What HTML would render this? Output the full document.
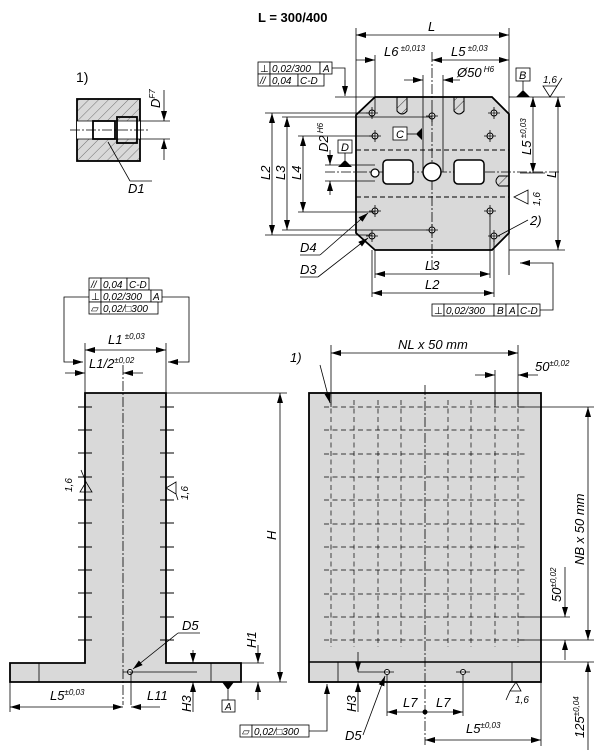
<!DOCTYPE html>
<html><head><meta charset="utf-8"><style>
body{margin:0;background:#fff}
svg{display:block;font-family:"Liberation Sans",sans-serif;font-style:italic;font-size:13px}
text{fill:#000}
.b{fill:#d9d9d9;stroke:#000;stroke-width:1.8}
.t{stroke:#000;stroke-width:0.8;fill:none}
.c{stroke:#000;stroke-width:0.8;stroke-dasharray:10 2 2 2;fill:none}
.d{stroke:#000;stroke-width:0.9;stroke-dasharray:5 3;fill:none}
.bx{fill:#fff;stroke:#000;stroke-width:0.8}
</style></head><body>
<svg width="604" height="750" viewBox="0 0 604 750" xmlns="http://www.w3.org/2000/svg">
<defs>
<marker id="a" markerWidth="10" markerHeight="6" refX="10" refY="3" orient="auto-start-reverse" markerUnits="userSpaceOnUse"><path d="M0,0 L10,3 L0,6z" fill="#000"/></marker>
<pattern id="h" width="7" height="7" patternUnits="userSpaceOnUse" patternTransform="rotate(45)"><line x1="0" y1="0" x2="0" y2="7" stroke="#000" stroke-width="0.8"/></pattern>
</defs>

<!-- detail 1) -->
<text x="76" y="82" style="font-style:normal;font-size:14px">1)</text>
<rect x="77" y="99" width="63" height="62" class="b"/>
<rect x="77" y="121" width="63" height="18" fill="#fff" stroke="none"/>
<rect x="77" y="99" width="63" height="22" fill="url(#h)" opacity="0.6"/>
<rect x="77" y="139" width="63" height="22" fill="url(#h)" opacity="0.6"/>
<rect x="93" y="121" width="22" height="18" fill="none" stroke="#000" stroke-width="1.8"/>
<rect x="117" y="117" width="20" height="26" fill="none" stroke="#000" stroke-width="1.8"/>
<line x1="77" y1="121" x2="140" y2="121" class="t"/><line x1="77" y1="139" x2="140" y2="139" class="t"/>
<line x1="70" y1="130" x2="150" y2="130" class="c"/>
<line x1="140" y1="121" x2="170" y2="121" class="t"/><line x1="140" y1="139" x2="170" y2="139" class="t"/>
<line x1="164" y1="90" x2="164" y2="121" class="t" marker-end="url(#a)"/><line x1="164" y1="160" x2="164" y2="139" class="t" marker-end="url(#a)"/>
<text transform="translate(160,108) rotate(-90)">D<tspan dy="-5" font-size="8">F7</tspan></text>
<line x1="108" y1="142" x2="130" y2="181" class="t"/><line x1="130" y1="181" x2="152" y2="181" class="t"/>
<text x="128" y="193">D1</text>

<!-- top view -->
<text x="258" y="22" style="font-style:normal;font-weight:bold;font-size:13px">L = 300/400</text>
<path d="M375,97 L492,97 L509,114 L509,233 L492,250 L375,250 L356,233 L356,115 Z" class="b"/>
<line x1="356" y1="28" x2="356" y2="115" class="t"/><line x1="509" y1="28" x2="509" y2="275" class="t"/>
<line x1="356" y1="35" x2="509" y2="35" class="t" marker-start="url(#a)" marker-end="url(#a)"/>
<text x="428" y="31">L</text>
<line x1="375" y1="55" x2="375" y2="113" class="t"/>
<line x1="356" y1="60" x2="375" y2="60" class="t" marker-end="url(#a)"/>
<line x1="432" y1="60" x2="509" y2="60" class="t" marker-start="url(#a)" marker-end="url(#a)"/>
<text x="384" y="56">L6<tspan dy="-5" font-size="8"> ±0,013</tspan></text>
<text x="451" y="56">L5<tspan dy="-5" font-size="8"> ±0,03</tspan></text>
<line x1="404" y1="80" x2="423" y2="80" class="t" marker-end="url(#a)"/><line x1="460" y1="80" x2="443" y2="80" class="t" marker-end="url(#a)"/>
<text x="457" y="77">Ø50<tspan dy="-5" font-size="8"> H6</tspan></text>
<line x1="423" y1="75" x2="423" y2="172" class="t"/><line x1="443" y1="75" x2="443" y2="172" class="t"/>
<line x1="432" y1="52" x2="432" y2="272" class="c"/>
<line x1="325" y1="172" x2="560" y2="172" class="c"/>
<line x1="356" y1="150" x2="509" y2="150" class="d"/><line x1="356" y1="197" x2="509" y2="197" class="d"/>
<rect x="383" y="160" width="30" height="24" rx="4" fill="#fff" stroke="#000" stroke-width="1.5"/>
<rect x="454" y="160" width="30" height="24" rx="4" fill="#fff" stroke="#000" stroke-width="1.5"/>
<circle cx="432" cy="172" r="9" fill="#fff" stroke="#000" stroke-width="1.5"/>
<circle cx="375" cy="173" r="4" fill="#fff" stroke="#000" stroke-width="1.2"/>
<path d="M397,97 h10 v14 q-5,6 -10,0z" fill="url(#h)" stroke="#000"/>
<path d="M454,97 h10 v14 q-5,6 -10,0z" fill="url(#h)" stroke="#000"/>
<path d="M509,176 h-10 q-6,5 0,10 h10z" fill="url(#h)" stroke="#000"/>
<g fill="#fff" stroke="#000" stroke-width="1">
<circle cx="372" cy="113" r="3"/><circle cx="432" cy="116" r="3"/><circle cx="494" cy="113" r="3"/>
<circle cx="375" cy="136" r="3"/><circle cx="490" cy="136" r="3"/><circle cx="375" cy="211" r="3"/>
<circle cx="490" cy="211" r="3"/><circle cx="432" cy="230" r="3"/><circle cx="372" cy="236" r="3"/><circle cx="494" cy="236" r="3"/>
</g>
<g class="t">
<path d="M366,113h12M372,107v12M426,116h12M432,110v12M488,113h12M494,107v12M369,136h12M375,130v12M484,136h12M490,130v12M369,211h12M375,205v12M484,211h12M490,205v12M426,230h12M432,224v12M366,236h12M372,230v12M488,236h12M494,230v12"/>
</g>
<!-- left dims -->
<line x1="265" y1="113" x2="372" y2="113" class="t"/><line x1="265" y1="235" x2="372" y2="235" class="t"/>
<line x1="282" y1="117" x2="432" y2="117" class="t"/><line x1="282" y1="230" x2="432" y2="230" class="t"/>
<line x1="298" y1="136" x2="375" y2="136" class="t"/><line x1="298" y1="212" x2="375" y2="212" class="t"/>
<line x1="325" y1="165" x2="375" y2="165" class="t"/><line x1="325" y1="181" x2="375" y2="181" class="t"/>
<line x1="272" y1="113" x2="272" y2="235" class="t" marker-start="url(#a)" marker-end="url(#a)"/>
<line x1="287" y1="117" x2="287" y2="230" class="t" marker-start="url(#a)" marker-end="url(#a)"/>
<line x1="303" y1="136" x2="303" y2="212" class="t" marker-start="url(#a)" marker-end="url(#a)"/>
<line x1="330" y1="150" x2="330" y2="165" class="t" marker-end="url(#a)"/><line x1="330" y1="195" x2="330" y2="181" class="t" marker-end="url(#a)"/>
<text transform="translate(270,180) rotate(-90)">L2</text>
<text transform="translate(285,180) rotate(-90)">L3</text>
<text transform="translate(301,180) rotate(-90)">L4</text>
<text transform="translate(328,152) rotate(-90)">D2<tspan dy="-5" font-size="8"> H6</tspan></text>
<rect x="338" y="140" width="14" height="13" class="bx"/><text x="341" y="151" font-size="11">D</text>
<line x1="345" y1="153" x2="345" y2="160" class="t"/><path d="M338,167 L352,167 L345,160z"/>
<rect x="393" y="127" width="14" height="13" class="bx"/><text x="396" y="138" font-size="11">C</text>
<line x1="407" y1="134" x2="416" y2="134" class="t"/><path d="M416,134 L422,128 L422,140z"/>
<!-- right dims -->
<line x1="509" y1="97" x2="565" y2="97" class="t"/><line x1="509" y1="250" x2="565" y2="250" class="t"/>
<line x1="520" y1="173" x2="545" y2="173" class="t"/>
<line x1="533" y1="97" x2="533" y2="173" class="t" marker-start="url(#a)" marker-end="url(#a)"/>
<line x1="558" y1="97" x2="558" y2="250" class="t" marker-start="url(#a)" marker-end="url(#a)"/>
<text transform="translate(531,155) rotate(-90)">L5<tspan dy="-5" font-size="8"> ±0,03</tspan></text>
<text transform="translate(556,178) rotate(-90)">L</text>
<rect x="516" y="68" width="14" height="13" class="bx"/><text x="519" y="79" font-size="11">B</text>
<line x1="523" y1="81" x2="523" y2="90" class="t"/><path d="M516,97 L530,97 L523,90z"/>
<path d="M543,86 L550,97 L557,86 Z M550,97 L562,78" class="t"/><text x="543" y="83" font-size="10">1,6</text>
<path d="M514,197 L528,190 L528,204 Z" class="t"/><text transform="translate(540,206) rotate(-90)" font-size="10">1,6</text>
<!-- top FCF -->
<rect x="258" y="62" width="12" height="12" class="bx"/><rect x="270" y="62" width="50" height="12" class="bx"/><rect x="320" y="62" width="12" height="12" class="bx"/>
<rect x="258" y="74" width="12" height="12" class="bx"/><rect x="270" y="74" width="28" height="12" class="bx"/><rect x="298" y="74" width="26" height="12" class="bx"/>
<text x="260" y="72" font-size="10" style="font-style:normal">⊥</text><text x="272" y="72" font-size="10">0,02/300</text><text x="323" y="72" font-size="10">A</text>
<text x="260" y="84" font-size="10">//</text><text x="272" y="84" font-size="10">0,04</text><text x="300" y="84" font-size="10">C-D</text>
<path d="M332,68 L345,68 L345,88" class="t"/><line x1="345" y1="80" x2="345" y2="96" class="t" marker-end="url(#a)"/>
<line x1="335" y1="97" x2="375" y2="97" class="t"/>
<!-- leaders -->
<line x1="368" y1="213" x2="320" y2="255" class="t" marker-start="url(#a)"/><line x1="320" y1="255" x2="300" y2="255" class="t"/><text x="300" y="252">D4</text>
<line x1="368" y1="238" x2="318" y2="277" class="t" marker-start="url(#a)"/><line x1="318" y1="277" x2="300" y2="277" class="t"/><text x="300" y="274">D3</text>
<line x1="498" y1="236" x2="528" y2="220" class="t"/><text x="530" y="225">2)</text>
<!-- bottom dims -->
<line x1="375" y1="250" x2="375" y2="278" class="t"/><line x1="490" y1="215" x2="490" y2="278" class="t"/>
<line x1="372" y1="250" x2="372" y2="297" class="t"/><line x1="494" y1="240" x2="494" y2="297" class="t"/>
<line x1="375" y1="274" x2="490" y2="274" class="t" marker-start="url(#a)" marker-end="url(#a)"/>
<line x1="372" y1="293" x2="494" y2="293" class="t" marker-start="url(#a)" marker-end="url(#a)"/>
<text x="425" y="270">L3</text><text x="425" y="289">L2</text>
<g><rect x="432" y="304" width="12" height="12" class="bx"/><rect x="444" y="304" width="50" height="12" class="bx"/><rect x="494" y="304" width="12" height="12" class="bx"/><rect x="506" y="304" width="12" height="12" class="bx"/><rect x="518" y="304" width="22" height="12" class="bx"/></g>
<text x="434" y="314" font-size="10" style="font-style:normal">⊥</text><text x="446" y="314" font-size="10">0,02/300</text><text x="497" y="314" font-size="10">B</text><text x="509" y="314" font-size="10">A</text><text x="520" y="314" font-size="10">C-D</text>
<path d="M540,310 L553,310 L553,263 L520,263" class="t" marker-end="url(#a)"/>

<!-- front view -->
<path d="M85,393 L166,393 L166,663 L241,663 L241,682 L10,682 L10,663 L85,663 Z" class="b"/>
<line x1="39" y1="663" x2="39" y2="682" class="t"/><line x1="211" y1="663" x2="211" y2="682" class="t"/>
<line x1="123" y1="365" x2="123" y2="705" class="c"/>
<g stroke="#000" stroke-width="0.9">
<path d="M78,407h14M78,430h14M78,453h14M78,477h14M78,500h14M78,523h14M78,547h14M78,570h14M78,593h14M78,617h14M78,640h14"/>
<path d="M160,407h14M160,430h14M160,453h14M160,477h14M160,500h14M160,523h14M160,547h14M160,570h14M160,593h14M160,617h14M160,640h14"/>
</g>
<circle cx="130" cy="672" r="2.5" fill="#fff" stroke="#000"/><line x1="123" y1="672" x2="197" y2="672" class="t"/>
<line x1="131" y1="672" x2="131" y2="705" class="t"/>
<line x1="133" y1="669" x2="178" y2="633" class="t" marker-start="url(#a)"/><line x1="178" y1="633" x2="200" y2="633" class="t"/><text x="182" y="630">D5</text>
<line x1="85" y1="343" x2="85" y2="393" class="t"/><line x1="166" y1="343" x2="166" y2="393" class="t"/>
<line x1="85" y1="350" x2="166" y2="350" class="t" marker-start="url(#a)" marker-end="url(#a)"/>
<text x="108" y="344">L1<tspan dy="-5" font-size="8"> ±0,03</tspan></text>
<line x1="65" y1="373" x2="85" y2="373" class="t" marker-end="url(#a)"/><line x1="143" y1="373" x2="123" y2="373" class="t" marker-end="url(#a)"/>
<text x="89" y="368">L1/2<tspan dy="-5" font-size="8">±0,02</tspan></text>
<g><rect x="89" y="278" width="12" height="12" class="bx"/><rect x="101" y="278" width="26" height="12" class="bx"/><rect x="127" y="278" width="22" height="12" class="bx"/>
<rect x="89" y="290" width="12" height="12" class="bx"/><rect x="101" y="290" width="50" height="12" class="bx"/><rect x="151" y="290" width="11" height="12" class="bx"/>
<rect x="89" y="302" width="12" height="12" class="bx"/><rect x="101" y="302" width="57" height="12" class="bx"/></g>
<text x="91" y="288" font-size="10">//</text><text x="103" y="288" font-size="10">0,04</text><text x="129" y="288" font-size="10">C-D</text>
<text x="91" y="300" font-size="10" style="font-style:normal">⊥</text><text x="103" y="300" font-size="10">0,02/300</text><text x="153" y="300" font-size="10">A</text>
<text x="91" y="312" font-size="10" style="font-style:normal">▱</text><text x="103" y="312" font-size="10">0,02/□300</text>
<path d="M89,297 L64,297 L64,362 L83,362" class="t" marker-end="url(#a)"/>
<path d="M162,297 L189,297 L189,362 L168,362" class="t" marker-end="url(#a)"/>
<line x1="166" y1="393" x2="287" y2="393" class="t"/><line x1="241" y1="682" x2="287" y2="682" class="t"/>
<line x1="280" y1="393" x2="280" y2="682" class="t" marker-start="url(#a)" marker-end="url(#a)"/>
<text transform="translate(276,540) rotate(-90)">H</text>
<line x1="241" y1="663" x2="264" y2="663" class="t"/>
<line x1="258" y1="645" x2="258" y2="663" class="t" marker-end="url(#a)"/><line x1="258" y1="700" x2="258" y2="682" class="t" marker-end="url(#a)"/>
<text transform="translate(256,648) rotate(-90)">H1</text>
<line x1="193" y1="650" x2="193" y2="663" class="t" marker-end="url(#a)"/><line x1="193" y1="712" x2="193" y2="682" class="t" marker-end="url(#a)"/>
<text transform="translate(191,712) rotate(-90)">H3</text>
<path d="M222,682 L234,682 L228,690z"/><line x1="228" y1="690" x2="228" y2="700" class="t"/>
<rect x="222" y="700" width="13" height="12" class="bx"/><text x="225" y="710" font-size="10">A</text>
<line x1="10" y1="682" x2="10" y2="712" class="t"/>
<line x1="10" y1="707" x2="123" y2="707" class="t" marker-start="url(#a)" marker-end="url(#a)"/>
<text x="50" y="700">L5<tspan dy="-5" font-size="8">±0,03</tspan></text>
<line x1="160" y1="707" x2="131" y2="707" class="t" marker-end="url(#a)"/><text x="147" y="700">L11</text>
<g><rect x="240" y="725" width="12" height="12" class="bx"/><rect x="252" y="725" width="57" height="12" class="bx"/></g>
<text x="242" y="735" font-size="10" style="font-style:normal">▱</text><text x="254" y="735" font-size="10">0,02/□300</text>
<path d="M309,731 L327,731 L327,684" class="t" marker-end="url(#a)"/>
<path d="M92,492 L80,492 L86,482z M86,482 L81,470" class="t"/><text transform="translate(72,492) rotate(-90)" font-size="10">1,6</text>
<path d="M166,488 L176,482 L176,494z M176,494 L178,500" class="t"/><text transform="translate(188,500) rotate(-90)" font-size="10">1,6</text>

<!-- side view -->
<rect x="309" y="393" width="232" height="289" class="b"/>
<line x1="309" y1="662" x2="541" y2="662" stroke="#000" stroke-width="1.4"/>
<line x1="338" y1="662" x2="338" y2="682" class="t"/><line x1="512" y1="662" x2="512" y2="682" class="t"/>
<g stroke="#000" stroke-width="0.7" stroke-dasharray="5 3.5">
<path d="M324,407h204M324,430h204M324,454h204M324,477h204M324,500h204M324,524h204M324,547h204M324,570h204M324,594h204M324,617h204M324,640h204"/>
<path d="M331,400v247M354,400v247M378,400v247M401,400v247M448,400v247M471,400v247M495,400v247M518,400v247"/>
</g>
<line x1="425" y1="385" x2="425" y2="745" class="c"/>
<line x1="331" y1="345" x2="331" y2="407" class="t"/><line x1="518" y1="345" x2="518" y2="407" class="t"/>
<line x1="331" y1="353" x2="518" y2="353" class="t" marker-start="url(#a)" marker-end="url(#a)"/>
<text x="398" y="349">NL x 50 mm</text>
<line x1="495" y1="370" x2="495" y2="407" class="t"/>
<line x1="475" y1="375" x2="495" y2="375" class="t" marker-end="url(#a)"/><line x1="538" y1="375" x2="518" y2="375" class="t" marker-end="url(#a)"/>
<text x="535" y="371">50<tspan dy="-5" font-size="8">±0,02</tspan></text>
<line x1="320" y1="365" x2="330" y2="403" class="t" marker-end="url(#a)"/><text x="290" y="362">1)</text>
<line x1="518" y1="407" x2="594" y2="407" class="t"/><line x1="518" y1="640" x2="594" y2="640" class="t"/><line x1="518" y1="617" x2="570" y2="617" class="t"/>
<line x1="541" y1="662" x2="594" y2="662" class="t"/>
<line x1="588" y1="407" x2="588" y2="640" class="t" marker-start="url(#a)" marker-end="url(#a)"/>
<text transform="translate(584,565) rotate(-90)">NB x 50 mm</text>
<line x1="565" y1="567" x2="565" y2="617" class="t" marker-end="url(#a)"/><line x1="565" y1="660" x2="565" y2="640" class="t" marker-end="url(#a)"/>
<text transform="translate(561,602) rotate(-90)">50<tspan dy="-5" font-size="8">±0,02</tspan></text>
<line x1="588" y1="662" x2="588" y2="750" class="t" marker-start="url(#a)"/>
<text transform="translate(584,738) rotate(-90)">125<tspan dy="-5" font-size="8">±0,04</tspan></text>
<line x1="541" y1="682" x2="541" y2="746" class="t"/>
<line x1="425" y1="740" x2="541" y2="740" class="t" marker-start="url(#a)" marker-end="url(#a)"/>
<text x="466" y="733">L5<tspan dy="-5" font-size="8">±0,03</tspan></text>
<circle cx="387" cy="672" r="2.5" fill="#fff" stroke="#000"/><circle cx="463" cy="672" r="2.5" fill="#fff" stroke="#000"/>
<path d="M380,672h14M456,672h14" class="t"/>
<line x1="387" y1="675" x2="387" y2="716" class="t"/><line x1="463" y1="675" x2="463" y2="716" class="t"/>
<line x1="425" y1="712" x2="387" y2="712" class="t" marker-end="url(#a)"/><line x1="425" y1="712" x2="463" y2="712" class="t" marker-end="url(#a)"/>
<circle cx="425" cy="712" r="2.5"/>
<text x="403" y="707">L7</text><text x="436" y="707">L7</text>
<line x1="358" y1="672" x2="380" y2="672" class="t"/>
<line x1="358" y1="652" x2="358" y2="672" class="t" marker-end="url(#a)"/><line x1="358" y1="712" x2="358" y2="682" class="t" marker-end="url(#a)"/>
<text transform="translate(356,712) rotate(-90)">H3</text>
<line x1="385" y1="676" x2="363" y2="735" class="t" marker-start="url(#a)"/><text x="345" y="740">D5</text>
<path d="M510,691 L521,691 L516,682z M510,691 L506,700" class="t"/><text x="515" y="703" font-size="10">1,6</text>
</svg>
</body></html>
